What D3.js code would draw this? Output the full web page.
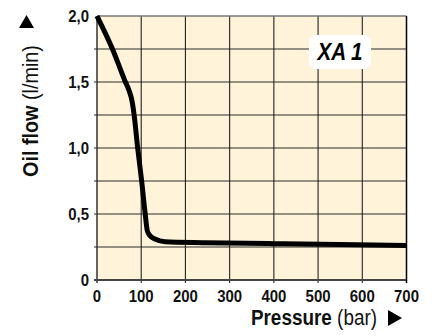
<!DOCTYPE html>
<html><head><meta charset="utf-8">
<script src="https://cdn.jsdelivr.net/npm/d3@7"></script>
<style>
body{margin:0;background:#fff;}
text{font-family:"Liberation Sans",Arial,sans-serif;}
</style></head>
<body><svg id="c" width="434" height="336"></svg>
<script>
const pressure = [0, 35, 63, 72, 79, 84, 92, 101, 109, 114, 120, 131, 154, 244, 400, 550, 700];
const flow     = [2.0, 1.75, 1.51, 1.44, 1.36, 1.25, 1.0, 0.75, 0.5, 0.37, 0.335, 0.31, 0.29, 0.283, 0.275, 0.268, 0.262];
const xTicks = [0, 100, 200, 300, 400, 500, 600, 700];
const yTicks = [0, 0.5, 1.0, 1.5, 2.0];
const yGrid = [0.25, 0.5, 0.75, 1.0, 1.25, 1.5, 1.75];
const xTitle = "Pressure", xUnit = " (bar)";
const yTitle = "Oil flow", yUnit = " (l/min)";
const label = "XA 1";

const svg = d3.select("#c");
const x = d3.scaleLinear().domain([0, 700]).range([97, 406.5]);
const y = d3.scaleLinear().domain([0, 2]).range([280, 16]);

svg.append("rect").attr("x", x(0)).attr("y", y(2)).attr("width", x(700)-x(0)).attr("height", y(0)-y(2)).attr("fill", "#fff4d9");

// grid
svg.append("g").selectAll("line").data(yGrid).join("line")
  .attr("x1", x(0)-3).attr("x2", x(700)).attr("y1", d=>y(d)).attr("y2", d=>y(d))
  .attr("stroke", "#2a2a2a").attr("stroke-width", 1.1);
svg.append("g").selectAll("line").data(xTicks.slice(1, -1)).join("line")
  .attr("x1", d=>x(d)).attr("x2", d=>x(d)).attr("y1", y(2)).attr("y2", y(0)+3)
  .attr("stroke", "#222").attr("stroke-width", 1.1);
// frame
svg.append("line").attr("x1", x(0)).attr("x2", x(700)).attr("y1", y(2)).attr("y2", y(2)).attr("stroke", "#777").attr("stroke-width", 1.5);
svg.append("line").attr("x1", x(0)).attr("x2", x(0)).attr("y1", y(2)).attr("y2", y(0)+3).attr("stroke", "#333").attr("stroke-width", 1.5);
svg.append("line").attr("x1", x(0)-3).attr("x2", x(700)).attr("y1", y(0)).attr("y2", y(0)).attr("stroke", "#444").attr("stroke-width", 1.8);
svg.append("line").attr("x1", x(700)).attr("x2", x(700)).attr("y1", y(2)).attr("y2", y(0)+3).attr("stroke", "#000").attr("stroke-width", 1.5);

// tick labels (condensed look via horizontal scale)
const sx = 0.88;
const fmt = d => d === 0 ? "0" : d3.format(".1f")(d).replace(".", ",");
svg.append("g").attr("transform", `scale(${sx},1)`).selectAll("text").data(yTicks).join("text")
  .attr("x", 89/sx).attr("y", d=>y(d)).attr("dy", "0.36em").attr("text-anchor", "end")
  .attr("font-size", 17).attr("font-weight", "bold").attr("fill", "#111").text(fmt);
svg.append("g").attr("transform", `scale(${sx},1)`).selectAll("text").data(xTicks).join("text")
  .attr("x", d=>x(d)/sx).attr("y", 302).attr("text-anchor", "middle")
  .attr("font-size", 17).attr("font-weight", "bold").attr("fill", "#111").text(d=>d);

// curve
const pts = pressure.map((p,i)=>[p, flow[i]]);
svg.append("path").datum(pts)
  .attr("d", d3.line().x(d=>x(d[0])).y(d=>y(d[1])).curve(d3.curveMonotoneX))
  .attr("fill", "none").attr("stroke", "#000").attr("stroke-width", 5).attr("stroke-linejoin", "round").attr("stroke-linecap", "butt");

// XA 1 label
svg.append("rect").attr("x", 309).attr("y", 35).attr("width", 62).attr("height", 34).attr("rx", 7).attr("fill", "#fff");
svg.append("text").attr("transform", "translate(340,60) scale(0.9,1)").attr("text-anchor", "middle")
  .attr("font-size", 23).attr("font-weight", "bold").attr("font-style", "italic").attr("fill", "#000").text(label);

// x title
const xt = svg.append("text").attr("transform", "translate(377,325) scale(0.86,1)").attr("text-anchor", "end").attr("font-size", 22).attr("fill", "#111");
xt.append("tspan").attr("font-weight", "bold").text(xTitle);
xt.append("tspan").text(xUnit);
svg.append("path").attr("d", "M388,310 L402,318 L388,326 Z").attr("fill", "#000");

// y title
const yt = svg.append("text").attr("transform", "translate(38,111) rotate(-90) scale(0.9,1)").attr("text-anchor", "middle").attr("font-size", 22).attr("fill", "#111");
yt.append("tspan").attr("font-weight", "bold").text(yTitle);
yt.append("tspan").text(yUnit);
svg.append("path").attr("d", "M19,28 L26.5,15 L34,28 Z").attr("fill", "#000");
</script></body></html>
